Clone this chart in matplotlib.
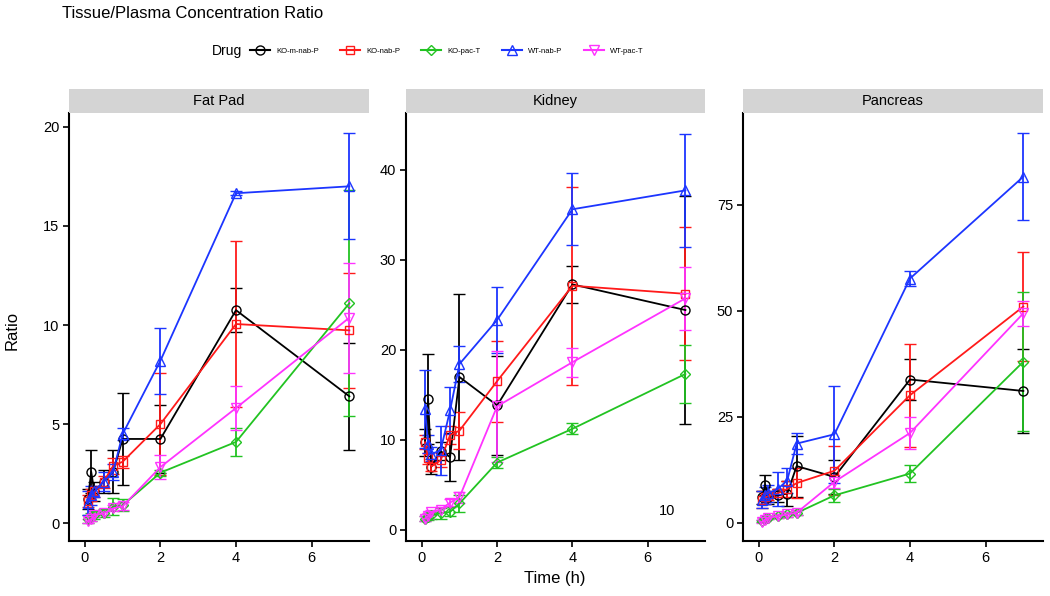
import numpy as np
import matplotlib
matplotlib.use('Agg')
import matplotlib.pyplot as plt
from matplotlib.lines import Line2D

plt.rcParams['font.family'] = ['Liberation Sans', 'DejaVu Sans']

# ── data ──────────────────────────────────────────────
time_h = [0.083, 0.167, 0.25, 0.5, 0.75, 1, 2, 4, 7]
drugs = ['KO-m-nab-P', 'KO-nab-P', 'KO-pac-T', 'WT-nab-P', 'WT-pac-T']
tissues = ['Fat Pad', 'Kidney', 'Pancreas']

# Fat Pad: mean / sd per drug
fat_mean = {
    'KO-m-nab-P': [1.2, 2.6, 1.6, 2.1, 2.6, 4.25, 4.25, 10.75, 6.4],
    'KO-nab-P':   [1.1, 1.4, 1.6, 2.1, 2.9, 3.1, 5.0, 10.05, 9.73],
    'KO-pac-T':   [0.2, 0.3, 0.4, 0.5, 0.84, 0.9, 2.55, 4.1, 11.1],
    'WT-nab-P':   [1.0, 1.4, 1.6, 2.1, 2.6, 4.5, 8.2, 16.65, 17.0],
    'WT-pac-T':   [0.1, 0.2, 0.4, 0.5, 0.75, 0.85, 2.83, 5.81, 10.37],
}
fat_sd = {
    'KO-m-nab-P': [0.5, 1.1, 0.5, 0.6, 1.1, 2.3, 1.7, 1.1, 2.7],
    'KO-nab-P':   [0.3, 0.3, 0.3, 0.3, 0.4, 0.3, 2.58, 4.2, 2.9],
    'KO-pac-T':   [0.2, 0.2, 0.2, 0.2, 0.42, 0.3, 0.15, 0.7, 5.7],
    'WT-nab-P':   [0.6, 0.5, 0.3, 0.5, 0.4, 0.3, 1.66, 0.1, 2.67],
    'WT-pac-T':   [0.1, 0.1, 0.1, 0.1, 0.15, 0.2, 0.6, 1.1, 2.77],
}
kid_mean = {
    'KO-m-nab-P': [9.7, 14.5, 7.0, 8.7, 8.07, 16.96, 13.8, 27.25, 24.4],
    'KO-nab-P':   [9.7, 7.9, 7.0, 7.7, 10.5, 11.0, 16.5, 27.1, 26.2],
    'KO-pac-T':   [1.2, 1.4, 1.6, 1.8, 1.96, 2.9, 7.45, 11.2, 17.3],
    'WT-nab-P':   [13.4, 9.5, 8.4, 8.8, 13.25, 18.4, 23.3, 35.6, 37.7],
    'WT-pac-T':   [1.2, 1.5, 1.9, 2.2, 3.0, 3.6, 13.7, 18.6, 25.7],
}
kid_sd = {
    'KO-m-nab-P': [1.5, 5.0, 0.8, 1.0, 2.7, 9.2, 5.5, 2.1, 12.7],
    'KO-nab-P':   [0.8, 0.6, 0.5, 0.8, 1.0, 2.1, 4.5, 11.0, 7.4],
    'KO-pac-T':   [0.3, 0.3, 0.4, 0.6, 0.5, 0.9, 0.6, 0.6, 3.2],
    'WT-nab-P':   [4.3, 1.0, 0.8, 2.7, 2.65, 2.0, 3.7, 4.0, 6.3],
    'WT-pac-T':   [0.3, 0.3, 0.3, 0.3, 0.4, 0.6, 6.2, 1.6, 3.5],
}
pan_mean = {
    'KO-m-nab-P': [6.0, 9.0, 6.0, 6.5, 6.9, 13.4, 10.85, 33.8, 31.1],
    'KO-nab-P':   [5.5, 6.0, 6.3, 7.0, 8.0, 9.4, 12.3, 30.1, 51.0],
    'KO-pac-T':   [0.5, 0.9, 1.2, 1.6, 2.0, 2.36, 6.5, 11.65, 38.0],
    'WT-nab-P':   [5.5, 6.5, 7.0, 8.0, 10.0, 18.7, 20.9, 57.6, 81.6],
    'WT-pac-T':   [0.3, 0.8, 1.2, 1.6, 2.0, 2.4, 9.7, 21.2, 49.4],
}
pan_sd = {
    'KO-m-nab-P': [1.5, 2.3, 1.5, 1.5, 3.0, 7.2, 4.1, 4.8, 9.8],
    'KO-nab-P':   [2.0, 1.5, 1.0, 1.0, 2.0, 3.5, 5.8, 12.1, 12.8],
    'KO-pac-T':   [0.3, 0.3, 0.3, 0.4, 0.5, 0.6, 1.5, 2.0, 16.4],
    'WT-nab-P':   [2.0, 2.0, 2.0, 4.0, 3.0, 2.4, 11.4, 1.8, 10.3],
    'WT-pac-T':   [0.3, 0.3, 0.3, 0.4, 0.5, 0.6, 1.5, 3.7, 3.0],
}
means = {'Fat Pad': fat_mean, 'Kidney': kid_mean, 'Pancreas': pan_mean}
sds = {'Fat Pad': fat_sd, 'Kidney': kid_sd, 'Pancreas': pan_sd}
yticks = {'Fat Pad': [0, 5, 10, 15, 20], 'Kidney': [0, 10, 20, 30, 40],
          'Pancreas': [0, 25, 50, 75]}
ylims = {'Fat Pad': (-0.9, 20.7), 'Kidney': (-1.27, 46.3), 'Pancreas': (-4.25, 96.6)}

colors = {'KO-m-nab-P': '#000000', 'KO-nab-P': '#FF1A1A', 'KO-pac-T': '#22C322',
          'WT-nab-P': '#1C35FF', 'WT-pac-T': '#FF33FF'}
markers = {'KO-m-nab-P': 'o', 'KO-nab-P': 's', 'KO-pac-T': 'D',
           'WT-nab-P': '^', 'WT-pac-T': 'v'}
msizes = {'o': 6.5, 's': 5.5, 'D': 5, '^': 6.5, 'v': 6.5}

# ── layout (pixels) ───────────────────────────────────
W, H = 1050, 596
fig = plt.figure(figsize=(W / 100, H / 100), dpi=100)

def rect(l, r, b, t):
    return [l / W, 1 - b / H, (r - l) / W, (b - t) / H]

panel_x = [(69, 369), (406, 705), (743, 1043)]
for (l, r), tissue in zip(panel_x, tissues):
    ax = fig.add_axes(rect(l, r, 541, 113))
    for d in drugs:
        ax.errorbar(time_h, means[tissue][d], yerr=sds[tissue][d],
                    color=colors[d], lw=1.3, elinewidth=1.3, capsize=4, capthick=1.3,
                    marker=markers[d], ms=msizes[markers[d]], mfc='none', mec=colors[d],
                    mew=1.0)
    ax.set_xlim(-0.42, 7.52)
    ax.set_ylim(*ylims[tissue])
    ax.set_xticks([0, 2, 4, 6])
    ax.set_yticks(yticks[tissue])
    for s in ('top', 'right'):
        ax.spines[s].set_visible(False)
    for s in ('left', 'bottom'):
        ax.spines[s].set_linewidth(1.5)
    ax.tick_params(labelsize=10.5, length=4, width=1.2, pad=3)
    sax = fig.add_axes(rect(l, r, 113, 89))
    sax.set_facecolor('#D4D4D4')
    sax.set_xticks([])
    sax.set_yticks([])
    for s in sax.spines.values():
        s.set_visible(False)
    sax.text(0.5, 0.5, tissue, ha='center', va='center', fontsize=10.5)
    if tissue == 'Kidney':
        ax.text(6.5, 2.1, '10', ha='center', va='center', fontsize=10.5)

fig.text(62 / W, 1 - 14 / H, 'Tissue/Plasma Concentration Ratio', fontsize=12,
         ha='left', va='center')
fig.text(12 / W, 1 - 330 / H, 'Ratio', rotation=90, fontsize=12, ha='center', va='center')
fig.text(555 / W, 1 - 579 / H, 'Time (h)', fontsize=12, ha='center', va='center')

# legend
fig.text(212 / W, 1 - 51 / H, 'Drug', fontsize=10, ha='left', va='center')
handles = [Line2D([], [], color=colors[d], lw=1.5, marker=markers[d],
                  ms=msizes[markers[d]], mfc='none', mec=colors[d]) for d in drugs]
fig.legend(handles, drugs, loc='center left', bbox_to_anchor=(250 / W, 1 - 51 / H),
           ncol=5, frameon=False, fontsize=5.5, handlelength=2.6, handletextpad=0.8,
           columnspacing=2.8, borderaxespad=0, borderpad=0)

fig.savefig('out.png', dpi=100)
